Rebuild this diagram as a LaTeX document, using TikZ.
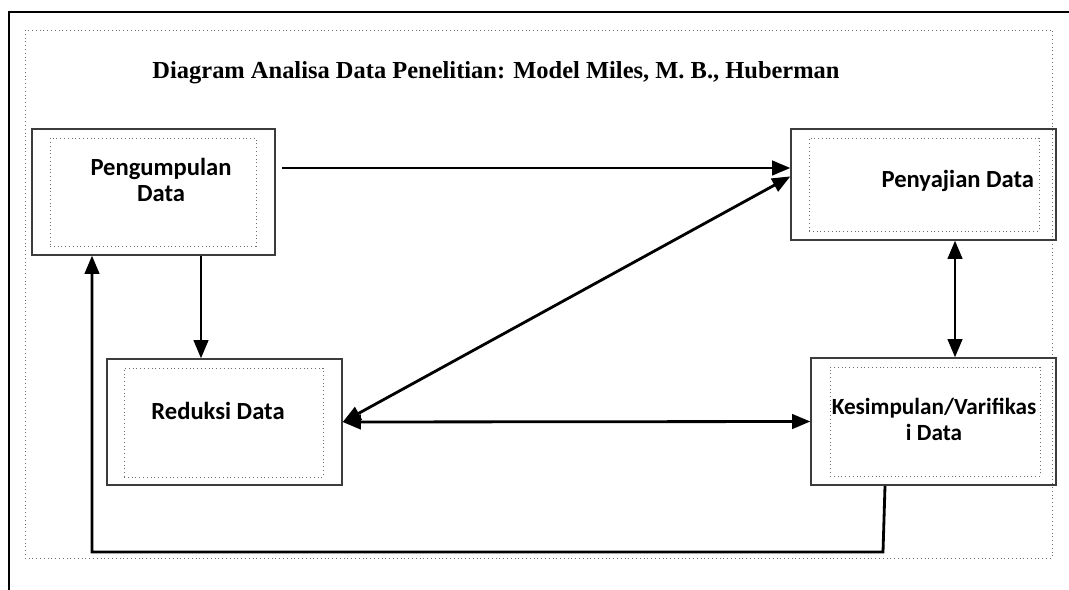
\documentclass[tikz,border=0pt]{standalone}
\usepackage{fontspec}
\setmainfont{Liberation Serif}
\newfontfamily\boxfont{Carlito}
\usepackage{tikz}
\usetikzlibrary{arrows,shapes,positioning,fit,calc}
\usepackage{xcolor}
\definecolor{boxgray}{RGB}{60,60,60}
\definecolor{dotgray}{RGB}{110,110,110}
\tikzstyle{arrow} = [line width=2pt,->,>=triangle 45]
\tikzstyle{biarrow} = [line width=2pt,<->,>=triangle 45]
\tikzstyle{outerbox} = [draw=boxgray, line width=1.2pt, inner sep=0pt]
\tikzstyle{innerbox} = [draw=dotgray, dotted, line width=0.7pt, inner sep=0pt]
\tikzstyle{label} = [font=\boxfont\bfseries\fontsize{17.5}{19}\selectfont, align=center]

\begin{document}
\begin{tikzpicture}[x=0.025cm, y=-0.025cm]
    \useasboundingbox (0,0) rectangle (1069,590);
    % page frame
    \draw[line width=1.8pt] (9,590) -- (9,12) -- (1069,12);
    \draw[dotgray, dotted, line width=0.7pt] (25,30) rectangle (1052,558);

    \node[font=\bfseries\fontsize{17.4}{20}\selectfont] (title) at (496,73) {Diagram Analisa Data Penelitian: Model Miles, M. B., Huberman};

    % boxes
    \node[outerbox, fit={(32,129) (275,255)}] (pengumpulan) {};
    \node[innerbox, fit={(50,138) (256,246)}] (pengumpulanin) {};
    \node[label] at (161,180) {Pengumpulan\\Data};

    \node[outerbox, fit={(791,129) (1056,240)}] (penyajian) {};
    \node[innerbox, fit={(809,138) (1039,231)}] (penyajianin) {};
    \node[label, anchor=east] at (1039,181) {Penyajian Data};

    \node[outerbox, fit={(107,359) (342,485)}] (reduksi) {};
    \node[innerbox, fit={(124,368) (323,477)}] (reduksiin) {};
    \node[label] at (218,411) {Reduksi Data};

    \node[outerbox, fit={(811,358) (1056,485)}] (kesimpulan) {};
    \node[innerbox, fit={(830,367) (1040,476)}] (kesimpulanin) {};
    \node[label, font=\boxfont\bfseries\fontsize{16.5}{18.5}\selectfont] at (934,419) {Kesimpulan/Varifikas\\i Data};

    % connectors
    \coordinate (start) at (282,168);
    \coordinate (down) at (201,0);
    \coordinate (vert) at (955,0);
    \coordinate (fb1) at (885,0);
    \coordinate (fb2) at (883,552);
    \coordinate (fb3) at (92,552);

    \draw[arrow] (start) -- (start -| penyajian.west);
    \draw[biarrow] (reduksi.east) -- ([yshift=0.2cm]penyajian.west);
    \draw[biarrow] (reduksi.east) -- (kesimpulan.west);
    \draw[biarrow] (vert |- penyajian.south) -- (vert |- kesimpulan.north);
    \draw[arrow] (down |- pengumpulan.south) -- (down |- reduksi.north);
    \draw[arrow] (fb1 |- kesimpulan.south) -- (fb2) -- (fb3) -- (fb3 |- pengumpulan.south);
\end{tikzpicture}
\end{document}
